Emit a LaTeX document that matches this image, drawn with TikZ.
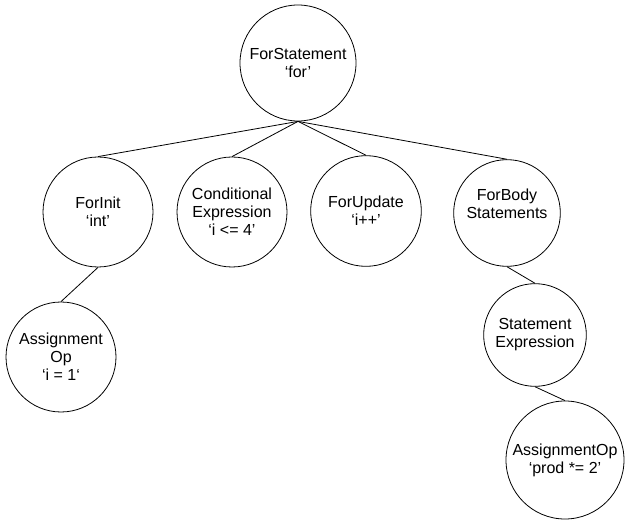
\documentclass[tikz,border=0pt]{standalone}
\usepackage{fontspec}
\setmainfont{Liberation Sans}
\usetikzlibrary{positioning}

\begin{document}
\begin{tikzpicture}[x=0.75pt,y=-0.75pt,
    tn/.style={circle,draw,line width=0.6pt,minimum size=82.5pt,inner sep=1pt,
               align=center,font=\fontsize{12}{13.5}\selectfont}]
    \useasboundingbox (0,0) rectangle (625,520);
    \node[tn,minimum size=87pt] (fs)  at (298,63)  {ForStatement\\‘for’};
    \node[tn]                   (fi)  at (98,212)  {ForInit\\‘int’};
    \node[tn]                   (ce)  at (232,212) {Conditional\\Expression\\‘i <= 4’};
    \node[tn,minimum size=83pt] (fu)  at (366,211) {ForUpdate\\‘i++’};
    \node[tn,minimum size=80pt] (fb)  at (507,213) {ForBody\\Statements\\\mbox{}};
    \node[tn]                   (ao1) at (61,357)  {Assignment\\Op\\‘i = 1‘};
    \node[tn,minimum size=77pt] (se)  at (535,335) {Statement\\Expression};
    \node[tn,minimum size=88.5pt] (ao2) at (565,460) {AssignmentOp\\‘prod *= 2’};

    \path[line width=0.6pt]
              (fs.south) edge (fi.north)
                         edge (ce.north)
                         edge (fu.north)
                         edge (fb.north)
              (fi.south) edge (ao1.north)
              (fb.south) edge (se.north)
              (se.south) edge (ao2.north);
\end{tikzpicture}
\end{document}
